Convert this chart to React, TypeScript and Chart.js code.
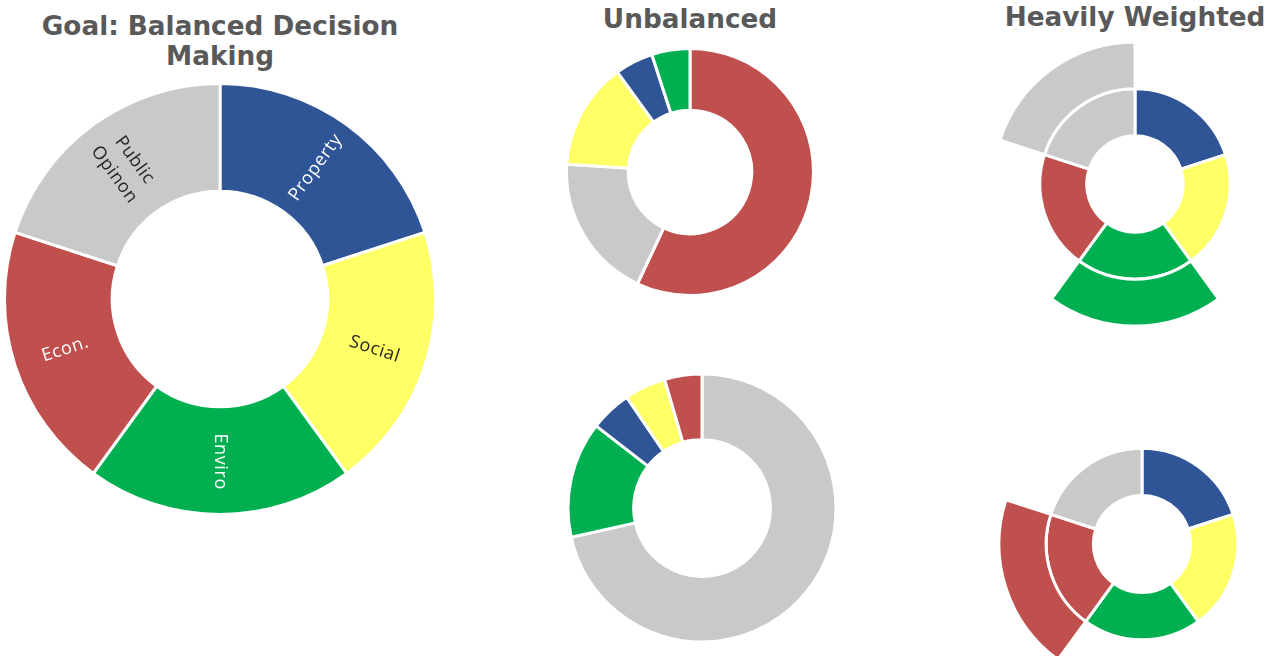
import React, { useEffect, useRef } from 'react';
import { Chart, registerables } from 'chart.js';

Chart.register(...registerables);

// ---- palette ----
const BLUE = '#2F5597';
const YELLOW = '#FFFF66';
const GREEN = '#00B050';
const RED = '#C0504D';
const GRAY = '#C9C9C9';
const TRANSPARENT = 'rgba(0,0,0,0)';

// ---- Goal: Balanced Decision Making ----
const balancedLabels = ['Property', 'Social', 'Enviro', 'Econ.', 'Public Opinon'];
const balancedValues = [20, 20, 20, 20, 20];
const balancedColors = [BLUE, YELLOW, GREEN, RED, GRAY];
const balancedLabelLines = [['Property'], ['Social'], ['Enviro'], ['Econ.'], ['Public', 'Opinon']];
const balancedLabelColors = ['#FFFFFF', '#262626', '#FFFFFF', '#FFFFFF', '#262626'];

// ---- Unbalanced (top) ----
const unbalancedTopLabels = ['Econ.', 'Public Opinon', 'Social', 'Property', 'Enviro'];
const unbalancedTopValues = [57, 19, 14, 5, 5];
const unbalancedTopColors = [RED, GRAY, YELLOW, BLUE, GREEN];

// ---- Unbalanced (bottom) ----
const unbalancedBottomLabels = ['Public Opinon', 'Enviro', 'Property', 'Social', 'Econ.'];
const unbalancedBottomValues = [71.5, 14, 5, 5, 4.5];
const unbalancedBottomColors = [GRAY, GREEN, BLUE, YELLOW, RED];

// ---- Heavily Weighted ----
const weightedLabels = ['Property', 'Social', 'Enviro', 'Econ.', 'Public Opinon'];
const weightedValues = [20, 20, 20, 20, 20];
const weightedColors = [BLUE, YELLOW, GREEN, RED, GRAY];
const weightedTopEmphasis = [false, false, true, false, true];
const weightedBottomEmphasis = [false, false, false, true, false];

const TITLE_FONT = '"DejaVu Sans", Verdana, sans-serif';
const TITLE_COLOR = '#595959';
const LABEL_FONT = '18px "Open Sans"';

const baseOptions = (radius: number, cutout: string) => ({
  responsive: false,
  maintainAspectRatio: false,
  animation: false,
  events: [],
  radius,
  cutout,
  rotation: 0,
  layout: { padding: 0 },
  plugins: {
    legend: { display: false },
    tooltip: { enabled: false },
    title: { display: false },
  },
});

const segLabelPlugin = {
  id: 'segLabels',
  afterDatasetsDraw(chart: any) {
    const ctx = chart.ctx as CanvasRenderingContext2D;
    const meta = chart.getDatasetMeta(0);
    meta.data.forEach((arc: any, i: number) => {
      const p = arc.getProps(['x', 'y', 'startAngle', 'endAngle', 'innerRadius', 'outerRadius'], true);
      const a = (p.startAngle + p.endAngle) / 2;
      const r = (p.innerRadius + p.outerRadius) / 2 + 1;
      const px = p.x + Math.cos(a) * r;
      const py = p.y + Math.sin(a) * r;
      let rot = a;
      if (Math.cos(a) < -1e-6) rot += Math.PI;
      const lines = balancedLabelLines[i];
      const lh = 25;
      ctx.save();
      ctx.translate(px, py);
      ctx.rotate(rot);
      ctx.font = LABEL_FONT + ', sans-serif';
      (ctx as any).letterSpacing = '0.6px';
      ctx.fillStyle = balancedLabelColors[i];
      ctx.textAlign = 'center';
      ctx.textBaseline = 'middle';
      lines.forEach((ln, j) => {
        ctx.fillText(ln, 0, (j - (lines.length - 1) / 2) * lh);
      });
      ctx.restore();
    });
  },
};

type DonutProps = { cx: number; cy: number; size: number; build: () => any };

function Donut({ cx, cy, size, build }: DonutProps) {
  const ref = useRef<HTMLCanvasElement>(null);
  useEffect(() => {
    let chart: Chart | null = null;
    let cancelled = false;
    const make = () => {
      if (cancelled || !ref.current) return;
      chart = new Chart(ref.current, build());
    };
    const fonts = (document as any).fonts;
    if (fonts && fonts.load) {
      fonts.load(LABEL_FONT).then(make, make);
    } else {
      make();
    }
    return () => {
      cancelled = true;
      if (chart) chart.destroy();
    };
  }, []);
  return (
    <canvas
      ref={ref}
      width={size}
      height={size}
      style={{
        position: 'absolute',
        left: Math.round(cx - size / 2),
        top: Math.round(cy - size / 2),
        width: size,
        height: size,
      }}
    />
  );
}

const buildBalanced = () => ({
  type: 'doughnut',
  data: {
    labels: balancedLabels,
    datasets: [
      {
        data: balancedValues,
        backgroundColor: balancedColors,
        borderColor: '#FFFFFF',
        borderWidth: 3,
      },
    ],
  },
  options: baseOptions(215.5, '50%'),
  plugins: [segLabelPlugin],
});

const buildSimple = (labels: string[], values: number[], colors: string[], radius: number, cutout: string) => () => ({
  type: 'doughnut',
  data: {
    labels,
    datasets: [
      {
        data: values,
        backgroundColor: colors,
        borderColor: '#FFFFFF',
        borderWidth: 3,
      },
    ],
  },
  options: baseOptions(radius, cutout),
});

const buildWeighted = (emphasis: boolean[], radius: number, cutout: string) => () => ({
  type: 'doughnut',
  data: {
    labels: weightedLabels,
    datasets: [
      {
        data: weightedValues,
        backgroundColor: weightedColors.map((c, i) => (emphasis[i] ? c : TRANSPARENT)),
        borderColor: '#FFFFFF',
        borderWidth: emphasis.map((e) => (e ? 3 : 0)),
      },
      {
        data: weightedValues,
        backgroundColor: weightedColors,
        borderColor: '#FFFFFF',
        borderWidth: 3,
      },
    ],
  },
  options: baseOptions(radius, cutout),
});

const titleStyle = (left: number, width: number, top: number): React.CSSProperties => ({
  position: 'absolute',
  left,
  width,
  top,
  textAlign: 'center',
  fontFamily: TITLE_FONT,
  fontWeight: 'bold',
  fontSize: 26.3,
  lineHeight: '30.5px',
  color: TITLE_COLOR,
  whiteSpace: 'nowrap',
});

export default function App() {
  return (
    <div
      style={{
        position: 'fixed',
        left: 0,
        top: 0,
        width: 1276,
        height: 656,
        overflow: 'hidden',
        background: '#FFFFFF',
      }}
    >
      <Donut cx={220} cy={299} size={440} build={buildBalanced} />
      <Donut
        cx={690}
        cy={172}
        size={252}
        build={buildSimple(unbalancedTopLabels, unbalancedTopValues, unbalancedTopColors, 123.5, '50%')}
      />
      <Donut
        cx={702}
        cy={508}
        size={272}
        build={buildSimple(unbalancedBottomLabels, unbalancedBottomValues, unbalancedBottomColors, 134, '51%')}
      />
      <Donut cx={1135} cy={184} size={288} build={buildWeighted(weightedTopEmphasis, 142, '34%')} />
      <Donut cx={1142} cy={544} size={290} build={buildWeighted(weightedBottomEmphasis, 143, '34%')} />

      <div style={titleStyle(0, 440, 10.5)}>
        Goal: Balanced Decision
        <br />
        Making
      </div>
      <div style={titleStyle(540, 300, 3.5)}>Unbalanced</div>
      <div style={titleStyle(985, 300, 1.5)}>Heavily Weighted</div>
    </div>
  );
}
